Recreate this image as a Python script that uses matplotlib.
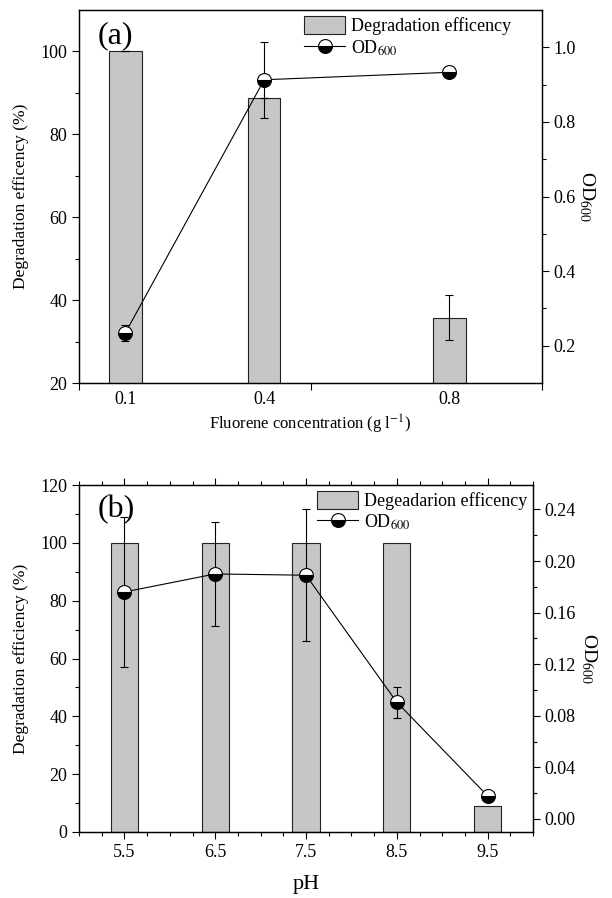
import numpy as np
import matplotlib.pyplot as plt
from matplotlib.patches import Patch
from matplotlib.lines import Line2D

plt.rcParams['font.family'] = ['Liberation Serif', 'DejaVu Serif']
plt.rcParams['mathtext.fontset'] = 'stix'
plt.rcParams['font.size'] = 13

# (a) fluorene concentration
conc = [0.1, 0.4, 0.8]
conc_labels = ['0.1', '0.4', '0.8']
deg_a = [100, 88.8, 35.8]
deg_a_err = [0, 0, 5.4]
od_a = [0.234, 0.913, 0.933]
od_a_err = [0.022, 0.102, 0.0]

# (b) pH
ph = [5.5, 6.5, 7.5, 8.5, 9.5]
ph_labels = ['5.5', '6.5', '7.5', '8.5', '9.5']
deg_b = [100, 100, 100, 100, 9]
od_b = [0.176, 0.190, 0.189, 0.0905, 0.0178]
od_b_err = [0.058, 0.040, 0.051, 0.012, 0.002]

BAR_COLOR = '#c6c6c7'
MARKER = dict(marker='o', markersize=10, fillstyle='bottom', markerfacecolor='black',
              markerfacecoloralt='white', markeredgecolor='black', markeredgewidth=0.8)


def style_axes(ax, ax2):
    for a in (ax, ax2):
        a.tick_params(which='both', direction='out', labelsize=13, width=0.8)
        a.tick_params(which='major', length=5)
        a.tick_params(which='minor', length=3)
        for s in a.spines.values():
            s.set_linewidth(0.9)


fig = plt.figure(figsize=(6.12, 8.98), dpi=100)

# ---------- panel (a) ----------
ax = fig.add_axes([79 / 612, 1 - 383 / 898, 463 / 612, 373 / 898])
ax2 = ax.twinx()
ax.bar(conc, deg_a, width=0.07, color=BAR_COLOR, edgecolor='#222222', linewidth=0.8,
       yerr=deg_a_err, error_kw=dict(ecolor='black', elinewidth=0.8, capsize=3, capthick=0.8))
ax2.errorbar(conc, od_a, yerr=od_a_err, color='black', linewidth=0.8, elinewidth=0.8,
             capsize=3, capthick=0.8, **MARKER)
ax.set_xlim(0, 1.0)
ax.set_ylim(20, 110)
ax2.set_ylim(0.1, 1.1)
ax.set_xticks(conc)
ax.set_xticklabels(conc_labels)
ax.set_xticks([0, 0.5, 1.0], minor=True)
ax.set_yticks([20, 40, 60, 80, 100])
ax.set_yticks(np.arange(30, 110, 20), minor=True)
ax2.set_yticks([0.2, 0.4, 0.6, 0.8, 1.0])
ax2.set_yticklabels(['0.2', '0.4', '0.6', '0.8', '1.0'])
ax2.set_yticks(np.arange(0.3, 1.1, 0.2), minor=True)
style_axes(ax, ax2)
ax.tick_params(axis='x', which='major', length=0, pad=6)
ax.tick_params(axis='x', which='minor', length=5)
ax.set_xlabel('Fluorene concentration (g l$^{-1}$)', fontsize=12, labelpad=3)
ax.set_ylabel('Degradation efficency (%)', fontsize=12.5, labelpad=8)
ax2.set_ylabel('OD$_{600}$', rotation=270, fontsize=14, labelpad=15)
ax.text(0.04, 0.97, '(a)', transform=ax.transAxes, fontsize=23, va='top', ha='left')

handles = [Patch(facecolor=BAR_COLOR, edgecolor='#222222', linewidth=0.8),
           Line2D([], [], color='black', linewidth=0.8, **MARKER)]
ax2.legend(handles, ['Degradation efficency', 'OD$_{600}$'], loc='upper left',
           bbox_to_anchor=(0.462, 1.013), frameon=False, fontsize=13, handlelength=2.3,
           handleheight=1.2, handletextpad=0.3, labelspacing=0.15, borderaxespad=0.2)

# ---------- panel (b) ----------
bx = fig.add_axes([79 / 612, 1 - 832 / 898, 454 / 612, 347 / 898])
bx2 = bx.twinx()
bx.bar(ph, deg_b, width=0.3, color=BAR_COLOR, edgecolor='#222222', linewidth=0.8)
bx2.errorbar(ph, od_b, yerr=od_b_err, color='black', linewidth=0.8, elinewidth=0.8,
             capsize=3, capthick=0.8, **MARKER)
bx.set_xlim(5, 10)
bx.set_ylim(0, 120)
bx2.set_ylim(-0.0102, 0.259)
bx.set_xticks(ph)
bx.set_xticklabels(ph_labels)
bx.set_xticks(np.arange(5, 10.01, 0.25), minor=True)
bx.set_yticks(np.arange(0, 121, 20))
bx.set_yticks(np.arange(10, 120, 20), minor=True)
bx2.set_yticks(np.arange(0, 0.241, 0.04))
bx2.set_yticklabels(['0.00', '0.04', '0.08', '0.12', '0.16', '0.20', '0.24'])
bx2.set_yticks(np.arange(0.02, 0.26, 0.04), minor=True)
style_axes(bx, bx2)
bx.xaxis.set_ticks_position('both')
bx.tick_params(axis='x', which='both', top=True, labeltop=False)
bx.set_xlabel('pH', fontsize=16, labelpad=10)
bx.set_ylabel('Degradation efficiency (%)', fontsize=12.5, labelpad=8)
bx2.set_ylabel('OD$_{600}$', rotation=270, fontsize=14, labelpad=16)
bx.text(0.04, 0.97, '(b)', transform=bx.transAxes, fontsize=23, va='top', ha='left')

bx2.legend(handles, ['Degeadarion efficency', 'OD$_{600}$'], loc='upper left',
           bbox_to_anchor=(0.5, 1.015), frameon=False, fontsize=13, handlelength=2.3,
           handleheight=1.2, handletextpad=0.3, labelspacing=0.15, borderaxespad=0.2)

fig.savefig('out.png', dpi=100)
